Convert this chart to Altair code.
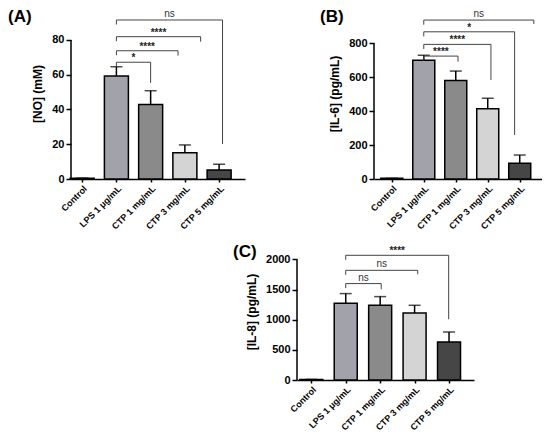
import json
import altair as alt
import pandas as pd

FONT = "Liberation Sans"

categories = ["Control", "LPS 1 μg/mL", "CTP 1 mg/mL", "CTP 3 mg/mL", "CTP 5 mg/mL"]
bar_colors = ["#a2a2aa", "#a2a2aa", "#8a8a8a", "#d4d4d4", "#464646"]

# Panel A: NO
no_mean = [0.5, 59.3, 42.8, 15.1, 5.2]
no_sd = [0.0, 5.3, 8.0, 4.5, 3.3]
no_ticks = [0, 20, 40, 60, 80]
no_br_label = ["*", "****", "****", "ns"]
no_br_from = [1, 1, 1, 1]
no_br_to = [2.0, 2.80, 3.46, 4.10]
no_br_y = [67.2, 73.8, 81.9, 91.5]
no_br_left_end = [65.0, 71.2, 79.3, 88.9]
no_br_right_end = [55.3, 71.0, 79.0, 20.1]

# Panel B: IL-6
il6_mean = [4, 698, 580, 413, 92]
il6_sd = [0, 30, 55, 62, 49]
il6_ticks = [0, 200, 400, 600, 800]
il6_br_label = ["****", "****", "*", "ns"]
il6_br_from = [1, 1, 1, 1]
il6_br_to = [2.07, 3.10, 3.84, 4.44]
il6_br_y = [723, 792, 866, 935]
il6_br_left_end = [696, 765, 839, 908]
il6_br_right_end = [690, 582, 259, 912]

# Panel C: IL-8
il8_mean = [10, 1272, 1239, 1111, 630]
il8_sd = [0, 161, 144, 128, 166]
il8_ticks = [0, 500, 1000, 1500, 2000]
il8_br_label = ["ns", "ns", "****"]
il8_br_from = [1, 1, 1]
il8_br_to = [2.03, 3.09, 3.99]
il8_br_y = [1599, 1819, 2068]
il8_br_left_end = [1524, 1744, 1993]
il8_br_right_end = [1504, 1753, 1007]


def panel(tag, title, means, sds, ticks, ymax, xdom, width, height, bar_w,
          br_label, br_from, br_to, br_y, br_left, br_right, tag_dx):
    df = pd.DataFrame({"pos": list(range(len(categories))), "cat": categories,
                       "mean": means, "sd": sds})
    df["top"] = df["mean"] + df["sd"]
    bdf = pd.DataFrame({"label": br_label, "x1": br_from, "x2": br_to, "y": br_y,
                        "yl": br_left, "yr": br_right})
    bdf["xm"] = (bdf["x1"] + bdf["x2"]) / 2

    xscale = alt.Scale(domain=xdom, nice=False, zero=False)
    yscale = alt.Scale(domain=[0, ymax], nice=False, zero=False)
    label_expr = json.dumps(categories, ensure_ascii=False) + "[datum.value]"
    xaxis = alt.Axis(values=list(range(len(categories))), labelExpr=label_expr,
                     labelAngle=-45, labelOverlap=False, title=None, grid=False)
    yaxis = alt.Axis(values=ticks, domain=False, grid=False, title=title, format="d",
                     labelOverlap=False)

    def X(f):
        return alt.X(f, type="quantitative", scale=xscale, axis=xaxis)

    def Y(f):
        return alt.Y(f, type="quantitative", scale=yscale, axis=yaxis)

    base = alt.Chart(df)
    err = base.mark_rule(strokeWidth=1.5, color="black").encode(
        x=X("pos"), y=Y("mean"), y2="top")
    cap = base.mark_tick(orient="horizontal", size=12, thickness=1.5, color="black").encode(
        x=X("pos"), y=Y("top"))
    bars = base.mark_bar(size=bar_w, stroke="black", strokeWidth=1.5).encode(
        x=X("pos"), y=Y("mean"),
        color=alt.Color("cat:N", scale=alt.Scale(domain=categories, range=bar_colors),
                        legend=None))
    axis_line = alt.Chart(pd.DataFrame({"y0": [0], "y1": [ticks[-1]]})).mark_rule(
        strokeWidth=1.5, color="black").encode(x=alt.value(0), y=Y("y0"), y2="y1")

    bb = alt.Chart(bdf)
    h = bb.mark_rule(strokeWidth=1, color="#444").encode(x=X("x1"), x2="x2", y=Y("y"))
    lft = bb.mark_rule(strokeWidth=1, color="#444").encode(x=X("x1"), y=Y("y"), y2="yl")
    rgt = bb.mark_rule(strokeWidth=1, color="#444").encode(x=X("x2"), y=Y("y"), y2="yr")
    t_ns = bb.transform_filter("datum.label == 'ns'").mark_text(
        baseline="bottom", dy=-1, fontSize=10, font=FONT, color="#333").encode(
        x=X("xm"), y=Y("y"), text="label:N")
    t_st = bb.transform_filter("datum.label != 'ns'").mark_text(
        baseline="bottom", dy=1, fontSize=10, fontWeight="bold", font=FONT, color="#222").encode(
        x=X("xm"), y=Y("y"), text="label:N")
    tag_txt = alt.Chart(pd.DataFrame({"t": [tag]})).mark_text(
        align="left", baseline="middle", fontSize=17, fontWeight="bold", font=FONT,
        color="black").encode(x=alt.value(tag_dx), y=alt.value(9), text="t:N")

    return alt.layer(err, cap, bars, axis_line, h, lft, rgt, t_ns, t_st, tag_txt).properties(
        width=width, height=height)


A = panel("(A)", "[NO] (mM)", no_mean, no_sd, no_ticks, 98.4, [-0.18, 4.61], 174, 171, 24,
          no_br_label, no_br_from, no_br_to, no_br_y, no_br_left_end, no_br_right_end, -63)
B = panel("(B)", "[IL-6] (pg/mL)", il6_mean, il6_sd, il6_ticks, 1006, [-0.40, 4.54], 168, 171, 22,
          il6_br_label, il6_br_from, il6_br_to, il6_br_y, il6_br_left_end, il6_br_right_end, -54)
C = panel("(C)", "[IL-8] (pg/mL)", il8_mean, il8_sd, il8_ticks, 2272, [-0.27, 4.58], 177, 137, 23,
          il8_br_label, il8_br_from, il8_br_to, il8_br_y, il8_br_left_end, il8_br_right_end, -64)

spacer = alt.Chart(pd.DataFrame({"v": [0]})).mark_point(opacity=0).encode(
    x=alt.value(0), y=alt.value(0)).properties(width=152, height=10)

row1 = alt.hconcat(A, B, spacing=75)
row2 = alt.hconcat(spacer, C, spacing=10)

chart = alt.vconcat(row1, row2, spacing=8).properties(
    padding=0, background="white"
).configure(font=FONT).configure_view(strokeWidth=0).configure_axis(
    domainColor="black", domainWidth=1.5, tickColor="black", tickWidth=1.5,
    labelColor="black", labelFontWeight="bold", labelFont=FONT,
    titleColor="black", titleFontWeight="bold", titleFont=FONT, titleFontSize=12,
).configure_axisX(
    tickSize=3, labelFontSize=9, labelPadding=2
).configure_axisY(
    tickSize=5, labelFontSize=11, labelPadding=2, titlePadding=7
)

chart.save("out.html", embed_options={"renderer": "svg", "actions": False})
